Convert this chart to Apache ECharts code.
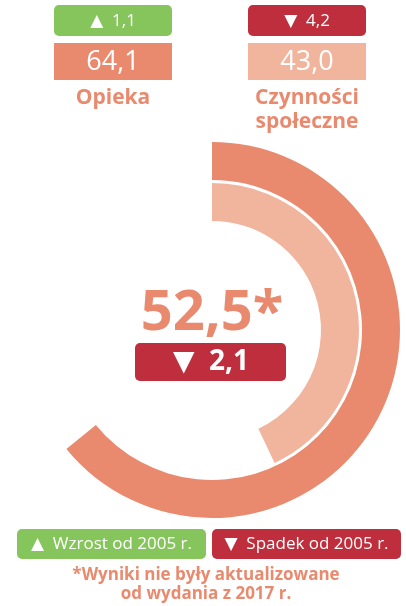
<!DOCTYPE html>
<html>
<head>
<meta charset="utf-8">
<script src="https://cdn.jsdelivr.net/npm/echarts@6/dist/echarts.min.js"></script>
<style>
  html, body { margin: 0; padding: 0; background: #fff; }
  #chart { width: 406px; height: 606px; }
</style>
</head>
<body>
<div id="chart"></div>
<script>
// wartości wskaźników
const categories = ["Opieka", "Czynności\nspołeczne"];
const values = [64.1, 43.0];
const changes = [1.1, -4.2];
// wynik ogólny
const totalValue = 52.5;
const totalChange = -2.1;
const legendLabels = ["Wzrost od 2005 r.", "Spadek od 2005 r."];
const footnote = "*Wyniki nie były aktualizowane\nod wydania z 2017 r.";

const ringColors = ["#E98A6F", "#F1B49D"];
const upColor = "#85C55B";
const downColor = "#BE2E3C";
const font = "'Open Sans', 'DejaVu Sans', sans-serif";

const fmt = (v) => Math.abs(v).toFixed(1).replace(".", ",");
const arrow = (v) => (v >= 0 ? "▲" : "▼");

const chart = echarts.init(document.getElementById("chart"), null, { renderer: "canvas" });

// pierścienie
const ringRadius = [
  [150, 188],
  [109, 147],
];
const series = values.map((v, i) => ({
  type: "pie",
  center: [212, 330],
  radius: ringRadius[i],
  startAngle: 90,
  clockwise: true,
  silent: true,
  label: { show: false },
  labelLine: { show: false },
  itemStyle: { borderWidth: 0 },
  data: [
    { value: v, itemStyle: { color: ringColors[i] } },
    { value: 100 - v, itemStyle: { color: "rgba(0,0,0,0)" } },
  ],
}));

// pola nad wykresem
const colX = [54, 248];
const graphic = [];
categories.forEach((name, i) => {
  const x = colX[i];
  const cx = x + 59;
  graphic.push(
    { type: "rect", shape: { x: x, y: 5, width: 118, height: 31, r: 5 },
      style: { fill: changes[i] >= 0 ? upColor : downColor } },
    { type: "text", style: { x: cx, y: 21, text: arrow(changes[i]) + "  " + fmt(changes[i]),
      fill: "#fff", fontSize: 17, fontFamily: font, textAlign: "center", textVerticalAlign: "middle" } },
    { type: "rect", shape: { x: x, y: 43, width: 118, height: 37 },
      style: { fill: ringColors[i] } },
    { type: "text", style: { x: cx, y: 62, text: fmt(values[i]),
      fill: "#fff", fontSize: 27, fontFamily: font, textAlign: "center", textVerticalAlign: "middle" } },
    { type: "text", style: { x: cx, y: 86, text: name, lineHeight: 24,
      fill: ringColors[0], fontSize: 21, fontWeight: "bold", fontFamily: font, textAlign: "center", textVerticalAlign: "top" } }
  );
});

// wynik w środku
graphic.push(
  { type: "text", style: { x: 212, y: 314, text: fmt(totalValue) + "*",
    fill: ringColors[0], fontSize: 56, fontWeight: "bold", fontFamily: font, textAlign: "center", textVerticalAlign: "middle" } },
  { type: "rect", shape: { x: 135, y: 343, width: 151, height: 38, r: 5 },
    style: { fill: totalChange >= 0 ? upColor : downColor } },
  { type: "text", style: { x: 211, y: 362, text: arrow(totalChange) + "  " + fmt(totalChange),
    fill: "#fff", fontSize: 28, fontWeight: "bold", fontFamily: font, textAlign: "center", textVerticalAlign: "middle" } }
);

// legenda
const legendX = [17, 212];
legendLabels.forEach((label, i) => {
  graphic.push(
    { type: "rect", shape: { x: legendX[i], y: 529, width: 189, height: 30, r: 5 },
      style: { fill: i === 0 ? upColor : downColor } },
    { type: "text", style: { x: legendX[i] + 94.5, y: 544, text: (i === 0 ? "▲  " : "▼  ") + label,
      fill: "#fff", fontSize: 17, fontFamily: font, textAlign: "center", textVerticalAlign: "middle" } }
  );
});
graphic.push({ type: "text", style: { x: 206, y: 566, text: footnote, lineHeight: 19,
  fill: ringColors[0], fontSize: 17, fontWeight: "bold", fontFamily: font, textAlign: "center", textVerticalAlign: "top" } });

chart.setOption({
  animation: false,
  series: series,
  graphic: graphic,
});
</script>
</body>
</html>
